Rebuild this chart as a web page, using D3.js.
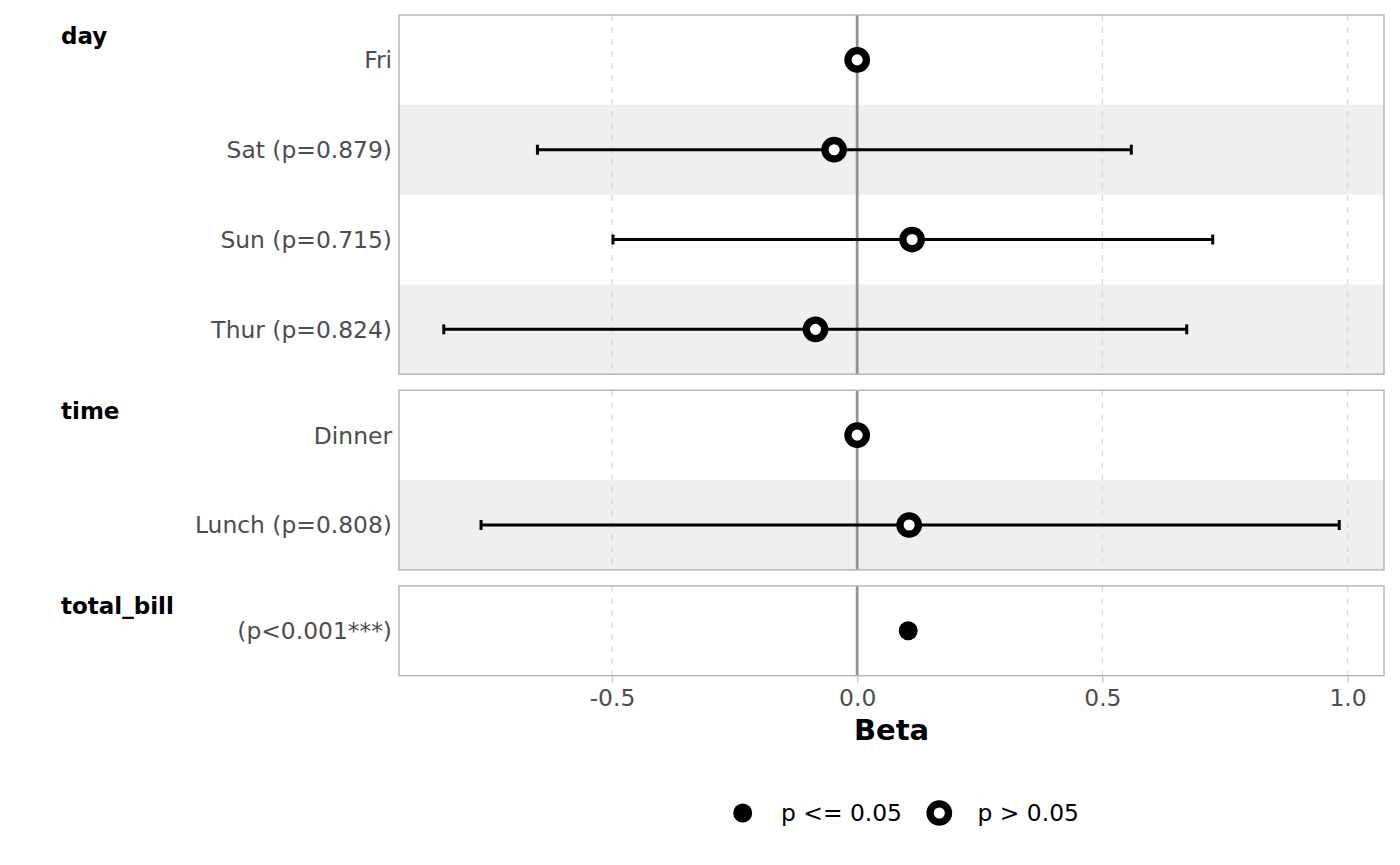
<!DOCTYPE html>
<html>
<head>
<meta charset="utf-8">
<script src="https://cdn.jsdelivr.net/npm/d3@7"></script>
<style>
  html, body { margin: 0; padding: 0; background: #fff; }
  svg { display: block; font-family: "DejaVu Sans", sans-serif; }
</style>
</head>
<body>
<div id="chart"></div>
<script>
// coefficients
const groups = ['day', 'day', 'day', 'day', 'time', 'time', 'total_bill'];
const labels = ['Fri', 'Sat (p=0.879)', 'Sun (p=0.715)', 'Thur (p=0.824)', 'Dinner', 'Lunch (p=0.808)', '(p<0.001***)'];
const estimates = [0, -0.047, 0.112, -0.085, 0, 0.106, 0.104];
const ciLow = [null, -0.652, -0.498, -0.843, null, -0.767, 0.097];
const ciHigh = [null, 0.559, 0.725, 0.672, null, 0.983, 0.111];
const significant = [false, false, false, false, false, false, true];
const xTicks = [-0.5, 0, 0.5, 1.0];
const legendLabels = ['p <= 0.05', 'p > 0.05'];

const width = 1400, height = 865;
const plot = { left: 399, right: 1384, top: 15, bottom: 675.7 };
const panelGap = 16;
const textSize = 23.4;

const rows = labels.map((label, i) => ({
  group: groups[i], label, est: estimates[i], lo: ciLow[i], hi: ciHigh[i], sig: significant[i]
}));
const groupNames = Array.from(new Set(groups));
const unit = (plot.bottom - plot.top - panelGap * (groupNames.length - 1)) / rows.length;

const svg = d3.select('#chart').append('svg')
  .attr('width', width)
  .attr('height', height);

// x scale with ggplot-style 5% expansion
const xMin = d3.min(rows, d => d.lo ?? d.est);
const xMax = d3.max(rows, d => d.hi ?? d.est);
const pad = (xMax - xMin) * 0.05;
const x = d3.scaleLinear()
  .domain([xMin - pad, xMax + pad])
  .range([plot.left, plot.right]);

let panelTop = plot.top;
groupNames.forEach(name => {
  const items = rows.filter(d => d.group === name);
  const h = unit * items.length;
  const y = d3.scaleBand()
    .domain(items.map(d => d.label))
    .range([panelTop, panelTop + h]);

  const g = svg.append('g');

  g.append('rect')
    .attr('x', plot.left).attr('y', panelTop)
    .attr('width', plot.right - plot.left).attr('height', h)
    .attr('fill', '#fff');

  // striped rows
  g.selectAll('.stripe')
    .data(items.filter((d, i) => i % 2 === 1))
    .join('rect')
    .attr('x', plot.left)
    .attr('y', d => y(d.label))
    .attr('width', plot.right - plot.left)
    .attr('height', y.bandwidth())
    .attr('fill', '#efefef');

  // dashed grid
  g.selectAll('.grid')
    .data(xTicks.filter(t => t !== 0))
    .join('line')
    .attr('x1', d => x(d)).attr('x2', d => x(d))
    .attr('y1', panelTop).attr('y2', panelTop + h)
    .attr('stroke', '#dcdcdc')
    .attr('stroke-width', 1.4)
    .attr('stroke-dasharray', '6,6');

  // reference line
  g.append('line')
    .attr('x1', x(0)).attr('x2', x(0))
    .attr('y1', panelTop).attr('y2', panelTop + h)
    .attr('stroke', '#939393')
    .attr('stroke-width', 2.8);

  const ci = items.filter(d => d.lo !== null);
  const cy = d => y(d.label) + y.bandwidth() / 2;

  g.selectAll('.ci')
    .data(ci)
    .join('line')
    .attr('x1', d => x(d.lo)).attr('x2', d => x(d.hi))
    .attr('y1', cy).attr('y2', cy)
    .attr('stroke', '#000')
    .attr('stroke-width', 3);

  ['lo', 'hi'].forEach(k => {
    g.selectAll('.cap-' + k)
      .data(ci)
      .join('line')
      .attr('x1', d => x(d[k])).attr('x2', d => x(d[k]))
      .attr('y1', d => cy(d) - 5).attr('y2', d => cy(d) + 5)
      .attr('stroke', '#000')
      .attr('stroke-width', 3);
  });

  // points
  g.selectAll('.pt')
    .data(items)
    .join('circle')
    .attr('cx', d => x(d.est))
    .attr('cy', cy)
    .attr('r', d => d.sig ? 9.5 : 9.2)
    .attr('fill', d => d.sig ? '#000' : '#fff')
    .attr('stroke', d => d.sig ? 'none' : '#000')
    .attr('stroke-width', 7.3);

  g.append('rect')
    .attr('x', plot.left).attr('y', panelTop)
    .attr('width', plot.right - plot.left).attr('height', h)
    .attr('fill', 'none')
    .attr('stroke', '#b3b3b3')
    .attr('stroke-width', 1.4);

  // row labels
  g.selectAll('.lab')
    .data(items)
    .join('text')
    .attr('x', plot.left - 7)
    .attr('y', cy)
    .attr('dy', '0.36em')
    .attr('text-anchor', 'end')
    .attr('font-size', textSize)
    .attr('fill', '#4d4d4d')
    .text(d => d.label);

  // group title
  g.append('text')
    .attr('x', 61)
    .attr('y', panelTop + 28.5)
    .attr('font-size', 23)
    .attr('font-weight', 'bold')
    .attr('fill', '#000')
    .text(name);

  panelTop += h + panelGap;
});

// x axis
const axis = svg.append('g')
  .attr('transform', `translate(0,${plot.bottom})`)
  .call(d3.axisBottom(x)
    .tickValues(xTicks)
    .tickFormat(d => d.toFixed(1))
    .tickSize(7)
    .tickPadding(7));
axis.select('.domain').remove();
axis.selectAll('.tick line').attr('stroke', '#c8c8c8').attr('stroke-width', 1.4);
axis.selectAll('.tick text')
  .attr('font-size', textSize)
  .attr('font-family', '"DejaVu Sans", sans-serif')
  .attr('fill', '#4d4d4d');

svg.append('text')
  .attr('x', (plot.left + plot.right) / 2)
  .attr('y', 740)
  .attr('text-anchor', 'middle')
  .attr('font-size', 29)
  .attr('font-weight', 'bold')
  .text('Beta');

// legend
const legend = svg.append('g').attr('transform', 'translate(0,813)');
const keys = [
  { label: legendLabels[0], sig: true, cx: 742.7, tx: 781 },
  { label: legendLabels[1], sig: false, cx: 939.3, tx: 977.5 }
];
keys.forEach(k => {
  legend.append('circle')
    .attr('cx', k.cx).attr('cy', 0)
    .attr('r', k.sig ? 9.5 : 9.2)
    .attr('fill', k.sig ? '#000' : '#fff')
    .attr('stroke', k.sig ? 'none' : '#000')
    .attr('stroke-width', 7.3);
  legend.append('text')
    .attr('x', k.tx).attr('y', 0)
    .attr('dy', '0.36em')
    .attr('font-size', textSize)
    .attr('fill', '#000')
    .text(k.label);
});
</script>
</body>
</html>
